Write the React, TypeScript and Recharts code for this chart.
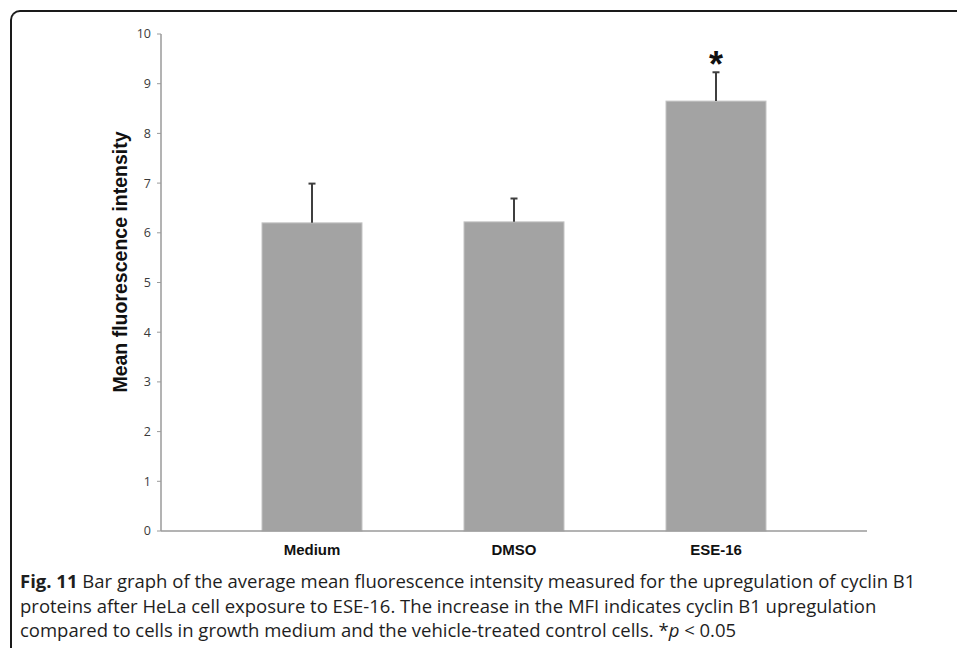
import { BarChart, Bar, XAxis, YAxis } from "recharts";

const groups = ["Medium", "DMSO", "ESE-16"];
const meanMfi = [6.2, 6.22, 8.65];
const sdUpper = [0.79, 0.47, 0.58];
const marks = ["", "", "*"];
const yTicks = [0, 1, 2, 3, 4, 5, 6, 7, 8, 9, 10];

const rows = groups.map((g, i) => ({
  group: g,
  mfi: meanMfi[i],
  sd: sdUpper[i],
  mark: marks[i],
}));

function BarWithError(props: any) {
  const { x, y, width, height, payload } = props;
  // px per unit from the bar itself
  const perUnit = height / payload.mfi;
  const cx = x + width / 2;
  const top = y - payload.sd * perUnit;
  return (
    <g>
      <rect x={x} y={y} width={width} height={height} fill="#a3a3a3" stroke="#c4c4c4" strokeWidth={1} />
      <line x1={cx} y1={y} x2={cx} y2={top} stroke="#3f3f3f" strokeWidth={2} />
      <line x1={cx - 3.5} y1={top} x2={cx + 3.5} y2={top} stroke="#3f3f3f" strokeWidth={2} />
      {payload.mark ? (
        <text
          x={cx}
          y={top + 5}
          textAnchor="middle"
          fontFamily="'Liberation Sans', Arial, sans-serif"
          fontWeight="bold"
          fontSize={36}
          fill="#111"
        >
          {payload.mark}
        </text>
      ) : null}
    </g>
  );
}

export default function App() {
  return (
    <div
      style={{
        position: "absolute",
        left: 0,
        top: 0,
        width: 957,
        height: 648,
        background: "#fff",
        overflow: "hidden",
      }}
    >
      <div
        style={{
          position: "absolute",
          left: 10,
          top: 10,
          width: 1000,
          height: 700,
          borderTop: "2px solid #1a1a1a",
          borderLeft: "2px solid #1a1a1a",
          borderTopLeftRadius: 10,
        }}
      />
      <div style={{ position: "absolute", left: 0, top: 0 }}>
        <BarChart
          width={957}
          height={570}
          data={rows}
          margin={{ top: 34, right: 90, bottom: 9, left: 0 }}
        >
          <XAxis
            dataKey="group"
            padding={{ left: 50, right: 50 }}
            axisLine={{ stroke: "#9a9a9a", strokeWidth: 1.5 }}
            tickLine={false}
            tickSize={0}
            tickMargin={13}
            height={30}
            interval={0}
            tick={{
              fill: "#111",
              fontSize: 15,
              fontWeight: "bold",
              fontFamily: "'Liberation Sans Narrow', 'Arial Narrow', 'Liberation Sans', sans-serif",
            }}
          />
          <YAxis
            width={161}
            domain={[0, 10]}
            ticks={yTicks}
            interval={0}
            axisLine={{ stroke: "#9a9a9a", strokeWidth: 1.5 }}
            tickLine={{ stroke: "#9a9a9a" }}
            tickSize={4}
            tickMargin={6}
            tick={{ fill: "#3a3a3a", fontSize: 12.5, fontFamily: "'Open Sans', sans-serif" }}
            label={{
              content: () => (
                <text
                  x={127}
                  y={262}
                  transform="rotate(-90 127 262)"
                  textAnchor="middle"
                  fontFamily="'Liberation Sans', Arial, sans-serif"
                  fontWeight="bold"
                  fontSize={19.5}
                  fill="#111"
                >
                  Mean fluorescence intensity
                </text>
              ),
            }}
          />
          <Bar dataKey="mfi" barSize={100} shape={BarWithError} isAnimationActive={false} />
        </BarChart>
      </div>
      <div
        style={{
          position: "absolute",
          left: 20,
          top: 569,
          fontFamily: "'Open Sans', sans-serif",
          fontSize: 18.5,
          lineHeight: "24.5px",
          color: "#1e1e1e",
          whiteSpace: "nowrap",
        }}
      >
        <div>
          <b>Fig. 11</b> Bar graph of the average mean fluorescence intensity measured for the upregulation of cyclin B1
        </div>
        <div>
          proteins after HeLa cell exposure to ESE-16. The increase in the MFI indicates cyclin B1 upregulation
        </div>
        <div>
          compared to cells in growth medium and the vehicle-treated control cells. *<i>p</i> &lt; 0.05
        </div>
      </div>
    </div>
  );
}
